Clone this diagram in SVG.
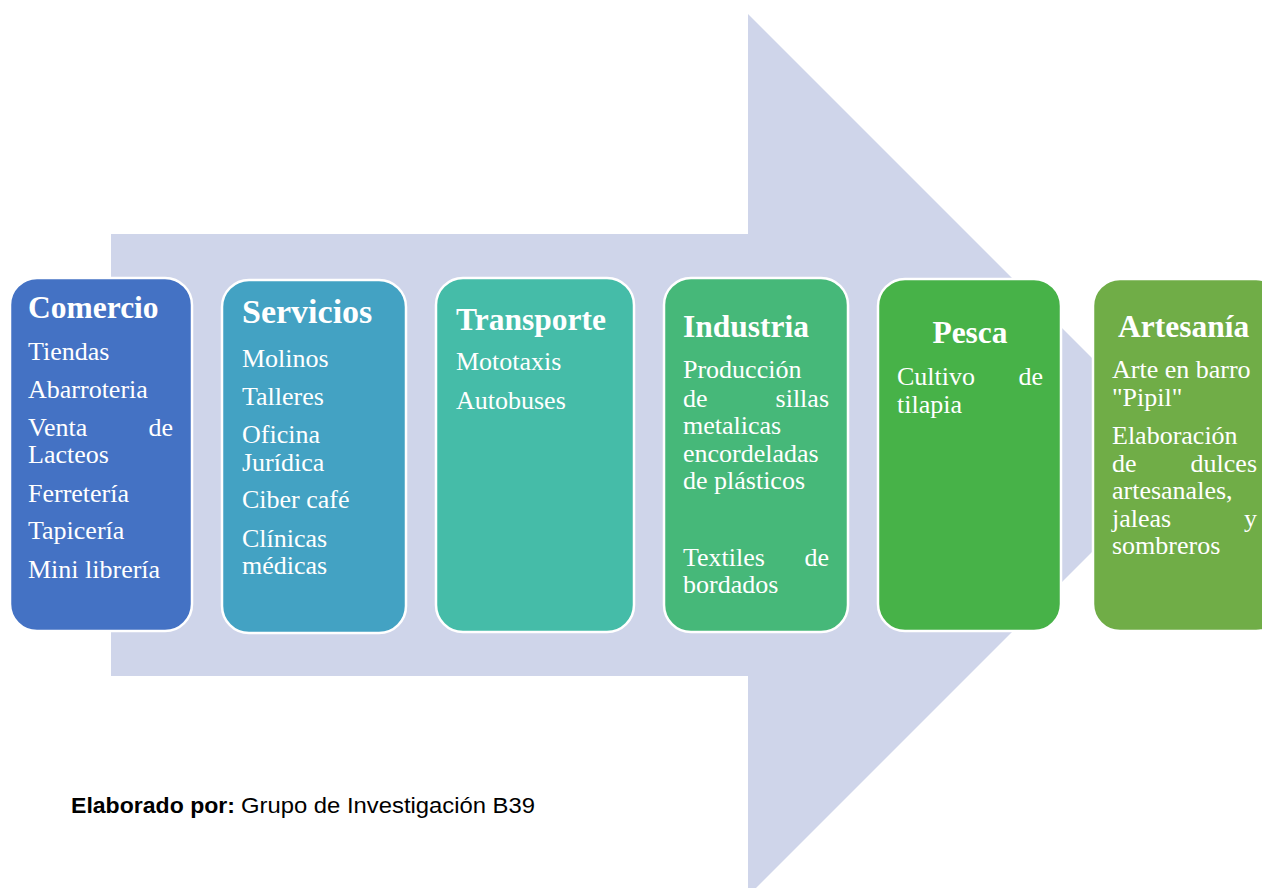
<svg xmlns="http://www.w3.org/2000/svg" width="1262" height="888" viewBox="0 0 1262 888">
<style>
.box{stroke:#ffffff;stroke-width:2.5}
.t{font-family:"Liberation Serif","Times New Roman",serif;fill:#ffffff}
.h{font-size:31.5px;font-weight:bold}
.i{font-size:26px}
.e{text-anchor:end}
.m{text-anchor:middle}
.f{font-family:"Liberation Sans",Arial,sans-serif;font-size:22px;fill:#000000}
</style>
<rect width="1262" height="888" fill="#ffffff"/>
<g id="arrow">
<polygon points="111,234 748,234 748,14 1189,455 748,896 748,676 111,676" fill="#CFD5EA"/>
</g>
<g id="connectors"></g>
<g id="comercio">
<rect class="box" x="10" y="278" width="182" height="353" rx="27" fill="#4472C4"/>
<text class="t h" x="28" y="318">Comercio</text>
<text class="t i" x="28" y="360">Tiendas</text>
<text class="t i" x="28" y="398">Abarroteria</text>
<text class="t i" x="28" y="436">Venta</text>
<text class="t i e" x="173" y="436">de</text>
<text class="t i" x="28" y="463">Lacteos</text>
<text class="t i" x="28" y="502">Ferretería</text>
<text class="t i" x="28" y="539">Tapicería</text>
<text class="t i" x="28" y="578">Mini librería</text>
</g>
<g id="servicios">
<rect class="box" x="222" y="280" width="184" height="353" rx="27" fill="#43A2C3"/>
<text class="t h" x="242" y="323" style="font-size:34px">Servicios</text>
<text class="t i" x="242" y="367">Molinos</text>
<text class="t i" x="242" y="405">Talleres</text>
<text class="t i" x="242" y="443">Oficina</text>
<text class="t i" x="242" y="471">Jurídica</text>
<text class="t i" x="242" y="508">Ciber café</text>
<text class="t i" x="242" y="547">Clínicas</text>
<text class="t i" x="242" y="574">médicas</text>
</g>
<g id="transporte">
<rect class="box" x="436" y="278" width="198" height="354" rx="27" fill="#45BCA8"/>
<text class="t h" x="456" y="330">Transporte</text>
<text class="t i" x="456" y="370">Mototaxis</text>
<text class="t i" x="456" y="409">Autobuses</text>
</g>
<g id="industria">
<rect class="box" x="664" y="278" width="184" height="354" rx="27" fill="#46B879"/>
<text class="t h" x="683" y="337">Industria</text>
<text class="t i" x="683" y="378">Producción</text>
<text class="t i" x="683" y="407">de</text>
<text class="t i e" x="829" y="407">sillas</text>
<text class="t i" x="683" y="434">metalicas</text>
<text class="t i" x="683" y="462">encordeladas</text>
<text class="t i" x="683" y="489">de plásticos</text>
<text class="t i" x="683" y="566">Textiles</text>
<text class="t i e" x="829" y="566">de</text>
<text class="t i" x="683" y="593">bordados</text>
</g>
<g id="pesca">
<rect class="box" x="878" y="279" width="183" height="352" rx="27" fill="#47B248"/>
<text class="t h m" x="970" y="343">Pesca</text>
<text class="t i" x="897" y="385">Cultivo</text>
<text class="t i e" x="1043" y="385">de</text>
<text class="t i" x="897" y="413">tilapia</text>
</g>
<g id="artesania">
<rect class="box" x="1093" y="279" width="190" height="352" rx="27" fill="#70AD47"/>
<text class="t h" x="1118" y="337">Artesanía</text>
<text class="t i" x="1112" y="378">Arte en barro</text>
<text class="t i" x="1112" y="406">"Pipil"</text>
<text class="t i" x="1112" y="444">Elaboración</text>
<text class="t i" x="1112" y="472">de</text>
<text class="t i e" x="1257" y="472">dulces</text>
<text class="t i" x="1112" y="499">artesanales,</text>
<text class="t i" x="1112" y="527">jaleas</text>
<text class="t i e" x="1257" y="527">y</text>
<text class="t i" x="1112" y="554">sombreros</text>
</g>
<g id="footer">
<text class="f" x="71" y="813" font-weight="bold" textLength="164" lengthAdjust="spacingAndGlyphs">Elaborado por:</text>
<text class="f" x="241" y="813" textLength="294" lengthAdjust="spacingAndGlyphs">Grupo de Investigación B39</text>
</g>
</svg>
